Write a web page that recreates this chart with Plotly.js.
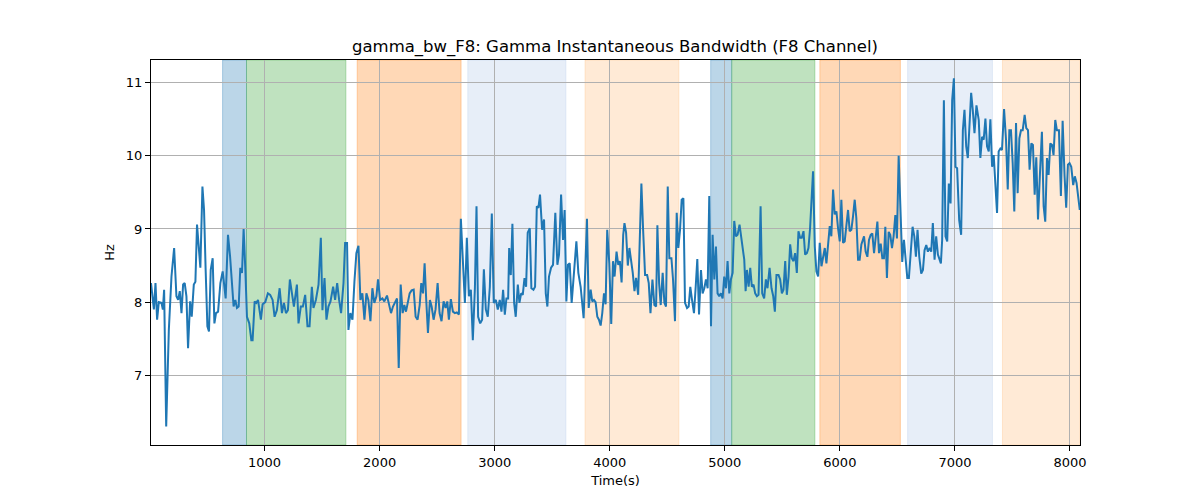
<!DOCTYPE html>
<html>
<head>
<meta charset="utf-8">
<script src="https://cdn.plot.ly/plotly-3.0.1.min.js"></script>
<style>html,body{margin:0;padding:0;background:#fff;}#chart{width:1200px;height:500px;}</style>
</head>
<body>
<div id="chart"></div>
<script>
// Time (s)
const timeS = [
13,38,52,66,81,104,116,127,145,168,191,214,234,249,263,278,292,306,321,335,353,367,385,399,413,428,442,460,474,488,503,517,532,549,564,578,596,616,636,662,682,700,717,731,746,760,775,789,804,818,833,847,867,885,896,914,928,943,968,983,
1006,1029,1049,1070,1087,1107,1131,1151,1168,1186,1203,1220,1238,1255,1281,1295,1315,1333,1353,1373,1391,1411,1425,1446,1469,1489,1503,1521,1538,1555,1573,1596,1613,1631,1648,1665,1686,1700,1717,1729,1746,1764,1781,1798,1816,1833,1850,1868,1885,1902,1920,1937,1954,1972,1986,2004,2024,2041,
2064,2082,2099,2116,2134,2151,2166,2183,2200,2215,2229,2244,2261,2278,2296,2313,2330,2348,2362,2377,2391,2405,2420,2437,2452,2469,2486,2504,2521,2538,2556,2573,2588,2602,2619,2637,2654,2671,2689,2706,2724,2741,2758,2776,2793,2810,2828,2842,2856,2874,2891,2906,2923,2940,2958,2975,2992,3010,3027,3044,3059,3073,
3088,3102,3117,3126,3140,3154,3169,3183,3201,3215,3230,3244,3259,3273,3287,3305,3319,3337,3351,3366,3380,3394,3412,3429,3444,3458,3472,3490,3507,3527,3545,3559,3577,3594,3608,3623,3637,3652,3669,3689,3710,3727,3747,3773,3788,3802,3817,3834,3848,3863,3877,3892,3906,3921,3935,3950,3964,3978,3996,4013,4028,4042,4059,4074,4088,4103,4117,
4128,4142,4157,4171,4186,4200,4215,4229,4247,4261,4275,4290,4307,4325,4339,4354,4371,4388,4403,4414,4429,4443,4460,4475,4489,4504,4518,4536,4550,4567,4582,4596,4611,4625,4640,4654,4672,4686,4700,4715,4732,4747,4761,4776,4793,4807,4822,4836,4851,4865,4880,4894,4909,4923,4937,4952,4966,4981,4995,5010,5024,5039,5053,5068,5082,5097,5111,5128,5146,
5169,5181,5192,5207,5221,5235,5250,5264,5279,5293,5311,5325,5342,5357,5371,5389,5406,5421,5435,5449,5467,5481,5496,5510,5525,5539,5554,5568,5582,5597,5611,5626,5640,5655,5669,5684,5698,5713,5727,5741,5756,5767,5782,5796,5811,5825,5840,5854,5869,5883,5898,5912,5926,5941,5955,5970,5984,5999,6013,6028,6042,6057,6071,6085,6100,6114,6129,6143,6158,6172,6187,
6210,6224,6239,6253,6268,6282,6297,6311,6326,6340,6355,6369,6383,6395,6409,6424,6438,6453,6467,6482,6496,6511,6525,6542,6557,6571,6586,6600,6615,6632,6647,6661,6675,6690,6707,6722,6736,6751,6765,6780,6794,6808,6823,6837,6852,6866,6878,6889,6904,6918,6933,6947,6962,6976,6991,7005,7019,7037,7054,7069,7083,7098,7112,7126,7141,7155,7170,7187,
7207,7221,7236,7250,7265,7279,7294,7308,7323,7337,7352,7366,7380,7395,7409,7427,7444,7459,7473,7487,7502,7516,7531,7545,7560,7574,7589,7606,7620,7635,7649,7664,7678,7693,7707,7722,7739,7756,7771,7785,7800,7814,7829,7843,7857,7872,7886,7904,7921,7936,7953,7967,7982,7996,8011,8028,8042,8057,8085
];
// Gamma instantaneous bandwidth (Hz)
const bandwidthHz = [
8.26,7.9,8.26,7.76,8.0,7.99,7.9,8.17,6.3,7.62,8.35,8.74,8.08,8.03,8.15,7.85,8.24,8.26,8.08,7.37,8.01,7.8,8.24,8.28,9.06,8.76,8.47,9.58,9.26,8.44,7.67,7.6,8.44,8.6,7.71,7.85,7.87,8.26,8.42,8.05,8.92,8.63,8.21,7.94,8.03,7.92,7.94,8.47,8.4,9.0,8.44,7.8,7.71,7.48,7.48,8.01,7.99,8.03,7.76,7.97,
8.0,8.12,8.1,8.03,7.8,7.89,8.19,7.85,7.99,7.85,7.89,8.31,8.12,7.94,8.24,7.71,7.94,7.94,8.1,7.67,7.67,8.21,7.92,8.03,8.24,8.88,7.89,8.33,7.76,7.94,8.01,8.21,8.03,8.26,8.03,7.85,8.26,8.81,8.81,7.62,7.85,7.76,8.28,8.67,8.77,8.03,8.12,7.76,8.12,8.03,7.74,8.19,7.99,8.08,8.31,8.03,8.05,8.01,
8.09,7.94,7.85,7.94,7.99,8.05,7.1,8.24,7.85,7.96,7.87,7.99,8.12,8.16,8.17,7.8,7.76,7.96,8.26,8.12,8.53,8.03,7.58,8.03,7.94,7.76,7.9,8.26,7.85,7.74,8.01,7.92,8.01,7.76,8.04,7.87,7.85,7.86,7.83,9.14,8.63,7.99,8.88,8.08,8.17,7.48,8.19,9.31,7.8,7.71,7.76,8.45,7.9,7.8,8.21,9.21,7.99,8.03,7.9,8.03,7.87,8.17,
7.83,8.05,8.05,8.74,8.37,9.07,7.99,7.8,8.24,7.99,8.12,8.1,8.33,8.21,8.95,9.01,8.19,8.17,8.21,9.31,9.29,9.47,8.99,9.13,8.12,7.94,8.35,8.47,8.51,9.22,8.51,8.65,9.47,8.85,9.26,8.01,8.51,8.53,7.99,8.4,8.83,8.4,8.21,7.78,8.67,9.14,7.92,8.17,8.01,8.03,8.0,7.8,7.76,7.68,7.85,8.12,7.97,8.99,8.53,7.7,8.56,8.35,8.69,8.51,8.56,8.27,8.92,
9.08,8.95,8.5,8.74,8.58,8.4,8.15,8.33,8.1,8.76,9.62,8.99,8.37,8.37,8.26,7.85,8.31,7.96,7.94,9.05,8.26,7.96,8.4,7.99,7.94,9.58,8.6,8.6,8.31,7.74,9.22,8.74,8.99,9.4,9.42,7.99,7.92,7.94,8.21,8.03,7.85,8.21,8.59,7.83,8.44,8.12,8.19,8.31,8.19,9.45,7.67,8.92,8.31,8.76,8.12,8.08,8.12,8.05,8.35,8.19,8.56,8.12,8.31,8.4,9.11,8.9,8.92,9.06,8.83,
8.58,8.15,8.44,8.21,8.47,8.21,8.24,8.12,8.08,8.1,9.31,8.12,8.05,8.31,8.19,8.47,8.19,8.08,7.87,8.37,8.37,8.31,8.12,8.17,8.56,8.1,8.35,8.79,8.6,8.56,8.67,8.4,8.97,8.88,8.88,8.97,8.65,8.67,8.74,9.01,9.38,9.79,8.76,8.42,8.35,8.81,8.49,8.63,8.74,8.53,8.76,9.04,8.9,9.54,9.2,9.24,9.01,8.83,9.4,8.81,8.83,9.11,9.26,8.97,8.99,9.17,9.4,9.15,8.58,8.58,8.79,
8.9,8.69,8.62,8.85,8.92,8.94,8.67,8.87,9.1,8.67,8.8,8.6,8.6,9.03,8.33,8.96,8.92,8.74,8.9,9.19,8.87,10.0,9.21,8.55,8.85,8.58,8.33,8.33,8.62,9.03,8.9,8.62,8.99,8.62,8.39,8.44,8.71,8.78,8.69,8.74,8.69,9.08,8.58,8.9,8.65,8.58,8.53,8.85,10.76,8.9,8.83,9.62,9.35,10.76,11.06,9.85,9.83,9.12,8.92,10.35,10.63,10.13,9.97,10.4,10.86,10.63,10.31,10.69,
10.49,9.97,10.26,10.22,10.51,10.13,10.06,10.5,9.85,10.01,9.54,9.22,10.06,10.1,10.08,10.64,10.22,9.54,10.35,10.35,9.9,9.24,10.45,9.49,10.24,10.35,10.35,10.56,10.38,10.35,9.81,10.17,10.15,9.47,9.98,9.13,9.76,10.33,9.31,9.1,9.97,9.74,10.17,10.15,10.01,10.49,10.35,10.35,9.45,10.48,9.72,9.29,9.88,9.9,9.85,9.6,9.72,9.63,9.26
];
// Shaded segments
const segStart = [635, 843, 1805, 2766, 3785, 4877, 5060, 5826, 6589, 7413];
const segEnd   = [843, 1707, 2708, 3619, 4601, 5060, 5783, 6526, 7326, 8085];
const segColor = ['#1f77b4','#2ca02c','#ff7f0e','#aec7e8','#ffbb78','#1f77b4','#2ca02c','#ff7f0e','#aec7e8','#ffbb78'];
const xTicks = [1000,2000,3000,4000,5000,6000,7000,8000];
const yTicks = [7,8,9,10,11];

function rgba(hex, a){
  const n = parseInt(hex.slice(1),16);
  return 'rgba('+((n>>16)&255)+','+((n>>8)&255)+','+(n&255)+','+a+')';
}
const shapes = segStart.map((s,i)=>({
  type:'rect', xref:'x', yref:'paper', x0:s, x1:segEnd[i], y0:0, y1:1,
  fillcolor: rgba(segColor[i],0.3), line:{color: rgba(segColor[i],0.3), width:1}, layer:'below'
}));

const trace = {
  x: timeS, y: bandwidthHz, type:'scatter', mode:'lines',
  line:{color:'#1f77b4', width:2}, hoverinfo:'x+y'
};
const font = {family:'DejaVu Sans, sans-serif', size:13, color:'#000'};
const layout = {
  width:1200, height:500,
  margin:{l:151, r:120, t:60, b:55},
  paper_bgcolor:'#fff', plot_bgcolor:'#fff',
  font: font,
  showlegend:false,
  title:{text:'gamma_bw_F8: Gamma Instantaneous Bandwidth (F8 Channel)', font:{family:'DejaVu Sans, sans-serif', size:16.5, color:'#000'}, x:0.5125, xanchor:'center', y:0.908, yanchor:'middle', yref:'container'},
  xaxis:{
    range:[13,8087], tickvals:xTicks, ticktext:xTicks.map(String),
    showgrid:true, gridcolor:'#b0b0b0', gridwidth:1,
    showline:true, linecolor:'#000', linewidth:1, mirror:true,
    ticks:'outside', ticklen:5, tickcolor:'#000', tickwidth:1,
    zeroline:false, tickfont:font,
    title:{text:'Time(s)', font:font, standoff:7}
  },
  yaxis:{
    range:[6.047,11.31], tickvals:yTicks, ticktext:yTicks.map(String),
    showgrid:true, gridcolor:'#b0b0b0', gridwidth:1,
    showline:true, linecolor:'#000', linewidth:1, mirror:true,
    ticks:'outside', ticklen:5, tickcolor:'#000', tickwidth:1,
    zeroline:false, tickfont:font,
    title:{text:'Hz', font:font, standoff:8}
  },
  shapes: shapes
};
Plotly.newPlot('chart',[trace],layout,{displayModeBar:false, staticPlot:true});
</script>
</body>
</html>
